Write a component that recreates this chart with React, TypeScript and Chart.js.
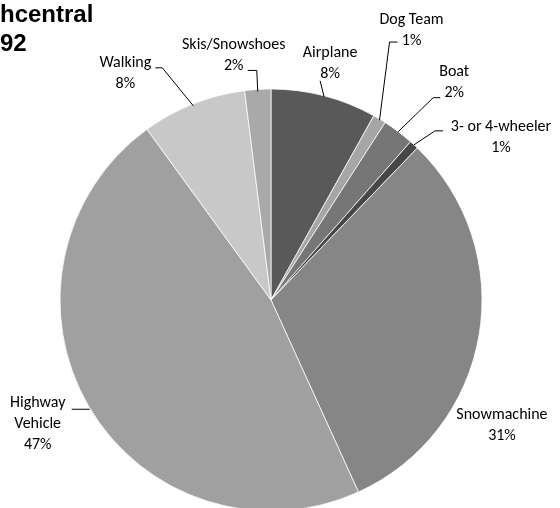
import React, { useEffect, useRef } from "react";
import { Chart, registerables } from "chart.js";

Chart.register(...registerables);

const categories = [
  "Airplane",
  "Dog Team",
  "Boat",
  "3- or 4-wheeler",
  "Snowmachine",
  "Highway Vehicle",
  "Walking",
  "Skis/Snowshoes",
];
const labelLines = [
  ["Airplane"],
  ["Dog Team"],
  ["Boat"],
  ["3- or 4-wheeler"],
  ["Snowmachine"],
  ["Highway", "Vehicle"],
  ["Walking"],
  ["Skis/Snowshoes"],
];
const shares = [8.1, 1.0, 2.4, 0.7, 31.0, 46.8, 8.0, 2.0];
const sliceColors = [
  "#595959",
  "#a6a6a6",
  "#767676",
  "#474747",
  "#868686",
  "#a0a0a0",
  "#c8c8c8",
  "#a9a9a9",
];
const titleLines = ["hcentral", "92"];

// label text offset (first line centre) relative to slice's outer mid point
const labelOffsets: [number, number][] = [
  [6, -43],
  [32, -99],
  [56, -60],
  [87, -18],
  [23, 79],
  [-51, -3],
  [-68, -41],
  [-24, -44],
];
// leader polyline points relative to slice's outer mid point
const leaders: [number, number][][] = [
  [[0, 1], [-4, -15]],
  [[0, 1], [10, -77], [18, -77]],
  [[0, 0], [35, -34], [42, -34]],
  [[0, 0], [21, -14], [29, -14]],
  [],
  [[1, 3], [-17, 3]],
  [[0, 2], [-31, -36], [-38, -36]],
  [[0, 2], [-1, -19], [-10, -19]],
];

const LABEL_FONT = "16px Carlito, Calibri, Lato, sans-serif";
const LINE_H = 21;

const labelPlugin = {
  id: "pieLabels",
  afterDraw(chart: any) {
    const ctx = chart.ctx as CanvasRenderingContext2D;
    const meta = chart.getDatasetMeta(0);
    ctx.save();
    meta.data.forEach((arc: any, i: number) => {
      const mid = (arc.startAngle + arc.endAngle) / 2;
      const ex = arc.x + Math.cos(mid) * arc.outerRadius;
      const ey = arc.y + Math.sin(mid) * arc.outerRadius;
      const pts = leaders[i];
      if (pts.length) {
        ctx.beginPath();
        ctx.strokeStyle = "#000";
        ctx.lineWidth = 1;
        pts.forEach(([dx, dy], k) => {
          if (k === 0) ctx.moveTo(ex + dx, ey + dy);
          else ctx.lineTo(ex + dx, ey + dy);
        });
        ctx.stroke();
      }
      const [ox, oy] = labelOffsets[i];
      const lines = [...labelLines[i], Math.round(shares[i]) + "%"];
      ctx.fillStyle = "#000";
      ctx.font = LABEL_FONT;
      ctx.textAlign = "center";
      ctx.textBaseline = "middle";
      lines.forEach((t, k) => {
        ctx.fillText(t, ex + ox, ey + oy + k * LINE_H);
      });
    });
    // clipped title
    ctx.font = "bold 24px 'Liberation Sans', Arial, sans-serif";
    ctx.textAlign = "left";
    ctx.textBaseline = "middle";
    ctx.fillStyle = "#000";
    ctx.fillText(titleLines[0], 0, 15);
    ctx.fillText(titleLines[1], 0, 44);
    ctx.restore();
  },
};

export default function App() {
  const ref = useRef<HTMLCanvasElement>(null);
  useEffect(() => {
    if (!ref.current) return;
    const chart = new Chart(ref.current, {
      type: "pie",
      data: {
        labels: categories,
        datasets: [
          {
            data: shares,
            backgroundColor: sliceColors,
            borderColor: "#ffffff",
            borderWidth: 0.75,
          },
        ],
      },
      options: {
        responsive: false,
        animation: false,
        radius: 211,
        layout: { padding: { top: 92, bottom: 0, left: 0, right: 18 } },
        plugins: {
          legend: { display: false },
          tooltip: { enabled: false },
          title: { display: false },
        },
      } as any,
      plugins: [labelPlugin],
    });
    return () => chart.destroy();
  }, []);
  return (
    <div style={{ position: "fixed", left: 0, top: 0, width: 560, height: 508, background: "#fff" }}>
      <canvas ref={ref} width={560} height={508} style={{ width: 560, height: 508 }} />
    </div>
  );
}
